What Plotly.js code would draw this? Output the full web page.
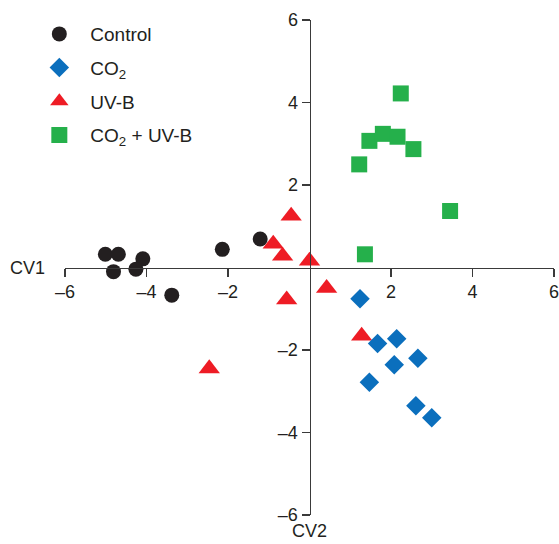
<!DOCTYPE html>
<html>
<head>
<meta charset="utf-8">
<script src="https://cdn.plot.ly/plotly-3.0.1.min.js"></script>
<style>html,body{margin:0;padding:0;background:#fff;}#chart{width:559px;height:544px;}</style>
</head>
<body>
<div id="chart"></div>
<script>
// Data
var seriesNames = ['Control', 'CO<sub>2</sub>', 'UV-B', 'CO<sub>2</sub> + UV-B'];
var controlX = [-5.01, -4.69, -4.81, -4.09, -4.26, -3.38, -2.14, -1.21];
var controlY = [0.32, 0.32, -0.10, 0.21, -0.04, -0.67, 0.44, 0.69];
var co2X = [1.24, 1.67, 2.14, 2.66, 2.08, 1.47, 2.61, 3.00];
var co2Y = [-0.76, -1.84, -1.73, -2.20, -2.36, -2.78, -3.35, -3.64];
var uvbX = [-0.89, -0.66, 0.00, 0.42, -0.56, -0.45, 1.28, -2.46];
var uvbY = [0.57, 0.28, 0.16, -0.50, -0.78, 1.25, -1.66, -2.45];
var co2uvbX = [2.24, 1.47, 1.80, 2.16, 2.55, 1.22, 3.45, 1.36];
var co2uvbY = [4.22, 3.07, 3.24, 3.17, 2.87, 2.50, 1.37, 0.32];
var xTickVals = [-6, -4, -2, 2, 4, 6];
var xTickText = ['\u20136', '\u20134', '\u20132', '2', '4', '6'];
var yTickVals = [-6, -4, -2, 2, 4, 6];
var yTickText = ['\u20136', '\u20134', '\u20132', '2', '4', '6'];
var xTitle = 'CV1';
var yTitle = 'CV2';

var FONT = 'Liberation Sans, Arial, Helvetica, sans-serif';
var TXT = '#231f20';

var traces = [
  {x: controlX, y: controlY, name: seriesNames[0], legendrank: 1, legendgroup: 'a',
   mode: 'markers', type: 'scatter', marker: {symbol: 'circle', size: 15, color: '#231f20'}},
  {x: uvbX, y: uvbY, name: seriesNames[2], legendrank: 3, legendgroup: 'c',
   mode: 'markers', type: 'scatter', marker: {symbol: 'triangle-up', size: 18.5, color: '#ee1c25'}},
  {x: co2X, y: co2Y, name: seriesNames[1], legendrank: 2, legendgroup: 'b',
   mode: 'markers', type: 'scatter', marker: {symbol: 'diamond', size: 15, color: '#0b6fbd'}},
  {x: co2uvbX, y: co2uvbY, name: seriesNames[3], legendrank: 4, legendgroup: 'd',
   mode: 'markers', type: 'scatter', marker: {symbol: 'square', size: 16, color: '#25b04b'}}
];

var axisCommon = {
  range: [-6, 6], showgrid: false, zeroline: false,
  showline: true, linecolor: '#3a3a3a', linewidth: 1.2,
  ticks: 'outside', ticklen: 8, tickwidth: 1.2, tickcolor: '#3a3a3a',
  tickmode: 'array', anchor: 'free', position: 0.5,
  ticklabeloverflow: 'allow',
  tickfont: {family: FONT, size: 18, color: TXT}, fixedrange: true
};

var layout = {
  width: 559, height: 544,
  margin: {l: 65, r: 5, t: 20, b: 29, pad: 0},
  paper_bgcolor: '#fff', plot_bgcolor: '#fff',
  font: {family: FONT, color: TXT},
  showlegend: true,
  hovermode: false,
  legend: {
    x: -0.075, y: 1.01, xanchor: 'left', yanchor: 'top',
    font: {family: FONT, size: 19, color: TXT},
    itemwidth: 52, tracegroupgap: 6, bgcolor: 'rgba(0,0,0,0)', borderwidth: 0,
    itemclick: false, itemdoubleclick: false
  },
  xaxis: Object.assign({}, axisCommon, {tickvals: xTickVals, ticktext: xTickText, domain: [0, 1]}),
  yaxis: Object.assign({}, axisCommon, {tickvals: yTickVals, ticktext: yTickText, domain: [0, 1], side: 'left'}),
  annotations: [
    {x: -6, y: 0, xref: 'x', yref: 'y', text: xTitle, showarrow: false,
     xanchor: 'right', yanchor: 'middle', xshift: -18, yshift: 0,
     font: {family: FONT, size: 18, color: TXT}},
    {x: 0, y: -6, xref: 'x', yref: 'y', text: yTitle, showarrow: false,
     xanchor: 'center', yanchor: 'top', xshift: 0, yshift: -4,
     font: {family: FONT, size: 18, color: TXT}}
  ]
};

Plotly.newPlot('chart', traces, layout, {displayModeBar: false, staticPlot: true});
</script>
</body>
</html>
